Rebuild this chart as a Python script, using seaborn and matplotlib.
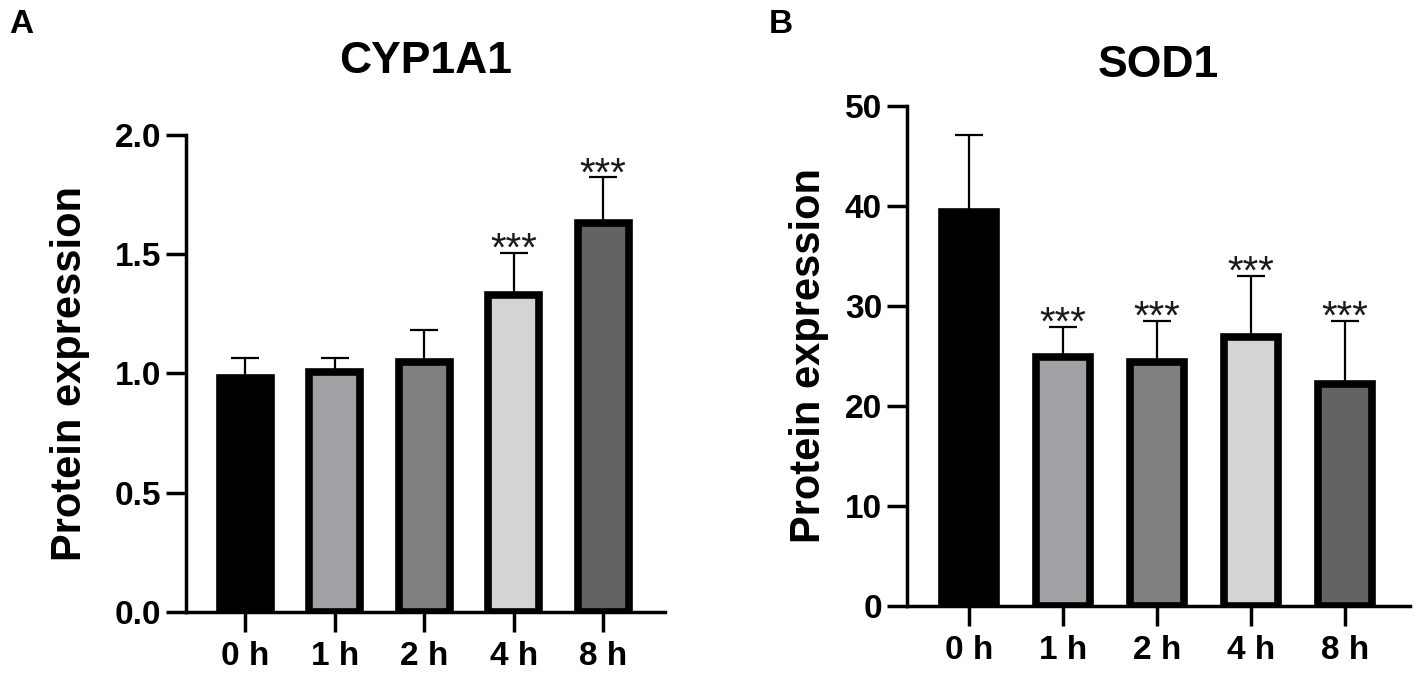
import numpy as np
import pandas as pd
import matplotlib
matplotlib.use('Agg')
import matplotlib.pyplot as plt
import seaborn as sns

times = ['0 h', '1 h', '2 h', '4 h', '8 h']
bar_colors = ['#000000', '#a1a1a5', '#808080', '#d4d4d4', '#636363']

cyp_mean = [0.98, 1.005, 1.047, 1.33, 1.632]
cyp_sd = [0.084, 0.059, 0.135, 0.177, 0.191]
cyp_sig = ['', '', '', '***', '***']

sod_mean = [39.4, 24.9, 24.4, 26.9, 22.2]
sod_sd = [7.7, 3.0, 4.1, 6.1, 6.3]
sod_sig = ['', '***', '***', '***', '***']

sns.set_theme(style='ticks')
plt.rcParams['font.family'] = ['Liberation Sans', 'DejaVu Sans']
plt.rcParams['font.weight'] = 'bold'
plt.rcParams['text.color'] = 'black'
plt.rcParams['axes.labelcolor'] = 'black'
plt.rcParams['xtick.color'] = 'black'
plt.rcParams['ytick.color'] = 'black'

fig = plt.figure(figsize=(14.17, 6.76), dpi=100)
ax_a = fig.add_axes([0.1313, 0.0947, 0.3380, 0.7056])
ax_b = fig.add_axes([0.6401, 0.1041, 0.3550, 0.7393])


def draw_panel(ax, means, sds, sig, title, ylim, yticks, ylabels, title_pad, labelpad):
    df = pd.DataFrame({'time': times, 'value': means})
    sns.barplot(data=df, x='time', y='value', hue='time', palette=bar_colors,
                legend=False, width=0.57, edgecolor='black', linewidth=5.5,
                saturation=1, ax=ax)
    pos = np.arange(len(times))
    ax.errorbar(pos, means, yerr=[np.zeros(len(sds)), sds], fmt='none',
                ecolor='black', elinewidth=1.6, capsize=10, capthick=1.6, zorder=5)
    for x, m, s, label in zip(pos, means, sds, sig):
        if label:
            ax.annotate(label, (x, m + s), xytext=(0, -6), textcoords='offset points',
                        ha='center', va='baseline', fontsize=29, fontweight='normal',
                        color='#1a1a1a')
    ax.set_xlim(-0.66, 4.69)
    ax.set_ylim(*ylim)
    ax.set_yticks(yticks)
    ax.set_yticklabels(ylabels)
    ax.set_xlabel('')
    ax.set_ylabel('Protein expression', fontsize=30, fontweight='bold', labelpad=labelpad)
    ax.set_title(title, fontsize=32, fontweight='bold', pad=title_pad)
    for side in ['top', 'right']:
        ax.spines[side].set_visible(False)
    for side in ['left', 'bottom']:
        ax.spines[side].set_linewidth(2.5)
        ax.spines[side].set_color('black')
    ax.tick_params(axis='both', length=14.4, width=2.5, color='black')
    ax.tick_params(axis='y', labelsize=24, pad=3.6)
    ax.tick_params(axis='x', labelsize=24, pad=6.5)
    for t in ax.get_xticklabels() + ax.get_yticklabels():
        t.set_fontweight('bold')


draw_panel(ax_a, cyp_mean, cyp_sd, cyp_sig, 'CYP1A1', (0, 2.0),
           [0.0, 0.5, 1.0, 1.5, 2.0], ['0.0', '0.5', '1.0', '1.5', '2.0'], 44.6, 18)
draw_panel(ax_b, sod_mean, sod_sd, sod_sig, 'SOD1', (0, 50),
           [0, 10, 20, 30, 40, 50], ['0', '10', '20', '30', '40', '50'], 21, 11)

fig.text(9 / 1417, 1 - 33 / 676, 'A', fontsize=24, fontweight='bold', va='baseline')
fig.text(769 / 1417, 1 - 33 / 676, 'B', fontsize=24, fontweight='bold', va='baseline')

fig.savefig('out.png', dpi=100)
